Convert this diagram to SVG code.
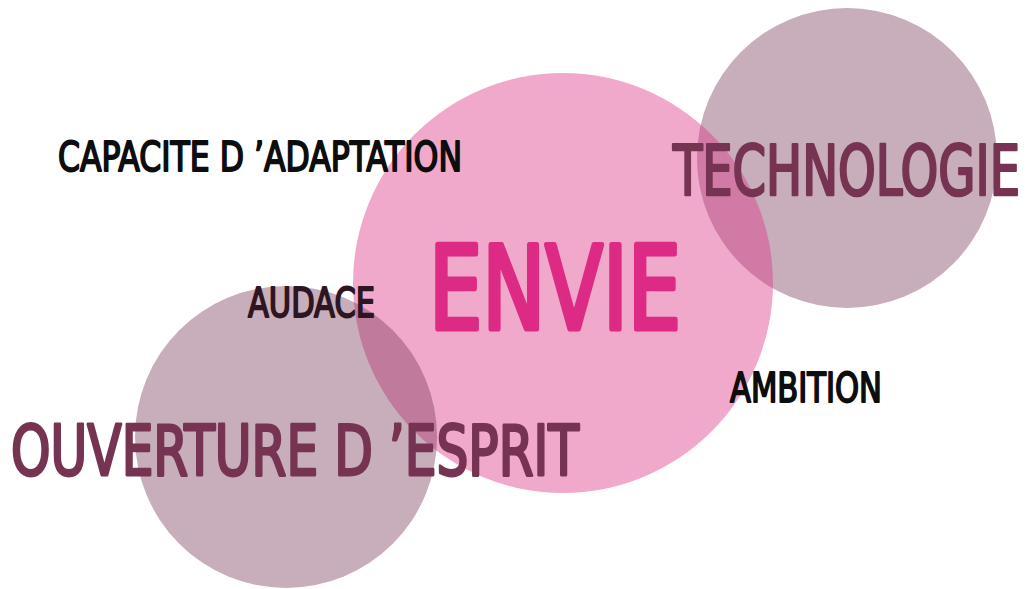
<svg xmlns="http://www.w3.org/2000/svg" width="1033" height="589" viewBox="0 0 1033 589">
<style>
text{font-family:"DejaVu Sans Condensed","Liberation Sans Narrow","Liberation Sans",sans-serif;font-weight:normal;stroke-linejoin:round;}
.blk{fill:#0d0d0d;stroke:#0d0d0d;stroke-width:1.8;}
.plum{fill:#763452;stroke:#763452;stroke-width:2.8;}
</style>
<defs>
<clipPath id="cp"><circle cx="563" cy="283" r="210"/></clipPath>
</defs>
<rect width="1033" height="589" fill="#ffffff"/>
<g id="circle-envie"><circle cx="563" cy="283" r="210" fill="#f1a9cb"/></g>
<g id="circle-technologie">
<circle cx="847" cy="158" r="150" fill="#c8adbb"/>
<circle cx="847" cy="158" r="150" fill="#d07aa5" clip-path="url(#cp)"/>
</g>
<g id="circle-ouverture">
<circle cx="286" cy="437" r="151" fill="#c8adbb"/>
<circle cx="286" cy="437" r="151" fill="#bf7a9c" clip-path="url(#cp)"/>
</g>
<g id="connectors"></g>
<g id="label-capacite"><text class="blk" x="58" y="171" font-size="41" textLength="404" lengthAdjust="spacingAndGlyphs">CAPACITE D ’ADAPTATION</text></g>
<g id="label-envie"><text x="429" y="329" font-size="116" fill="#dc2a85" stroke="#dc2a85" stroke-width="5" textLength="252" lengthAdjust="spacingAndGlyphs">ENVIE</text></g>
<g id="label-technologie"><text class="plum" transform="translate(673,194.5) scale(0.77,1)" x="0" y="0" font-size="69" style="stroke-width:2.6" textLength="450.6" lengthAdjust="spacingAndGlyphs">TECHNOLOGIE</text></g>
<g id="label-ouverture"><text class="plum" x="11" y="474.5" font-size="69" textLength="568" lengthAdjust="spacingAndGlyphs">OUVERTURE D ’ESPRIT</text></g>
<g id="label-audace"><text x="248" y="317" font-size="41" fill="#2e1522" stroke="#2e1522" stroke-width="1.8" textLength="127" lengthAdjust="spacingAndGlyphs">AUDACE</text></g>
<g id="label-ambition"><text class="blk" x="730" y="402" font-size="41" textLength="152" lengthAdjust="spacingAndGlyphs">AMBITION</text></g>
</svg>
